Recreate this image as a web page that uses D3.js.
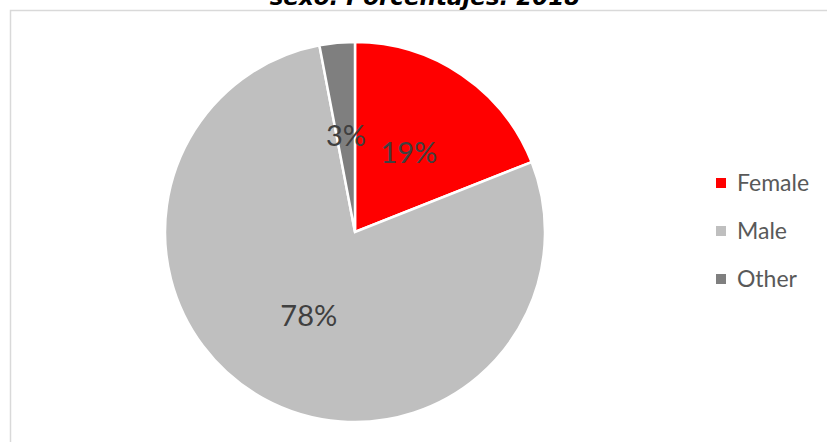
<!DOCTYPE html>
<html>
<head>
<meta charset="utf-8">
<script src="https://cdn.jsdelivr.net/npm/d3@7"></script>
<style>
  html, body { margin: 0; padding: 0; background: #fff; }
  svg { display: block; }
</style>
</head>
<body>
<svg id="chart" width="827" height="442"></svg>
<script>
// Share by sex, 2018
const categories = ["Female", "Male", "Other"];
const values = [19, 78, 3];
const colors = ["#FF0000", "#BFBFBF", "#7F7F7F"];
const titleText = "sexo. Porcentajes. 2018";

const W = 827, H = 442;
const svg = d3.select("#chart");

// chart frame (extends past the right and bottom edges)
svg.append("rect")
  .attr("x", 10.5).attr("y", 10.5)
  .attr("width", 900).attr("height", 900)
  .attr("fill", "#fff")
  .attr("stroke", "#D9D9D9")
  .attr("stroke-width", 1.5);

// title, its upper part runs above the top edge
svg.append("text")
  .attr("x", 425).attr("y", 5)
  .attr("text-anchor", "middle")
  .attr("font-family", "'DejaVu Sans', sans-serif")
  .attr("font-weight", "bold")
  .attr("font-style", "italic")
  .attr("font-size", 23)
  .attr("fill", "#000")
  .text(titleText);

const cx = 355, cy = 232, R = 190;
const data = categories.map((c, i) => ({ name: c, value: values[i], color: colors[i] }));

const pie = d3.pie().value(d => d.value).sort(null);
const arcs = pie(data);
const arc = d3.arc().innerRadius(0).outerRadius(R);
const labelArc = d3.arc().innerRadius(R * 0.505).outerRadius(R * 0.505);

const g = svg.append("g").attr("transform", `translate(${cx},${cy})`);

g.selectAll("path.slice")
  .data(arcs)
  .join("path")
  .attr("class", "slice")
  .attr("d", arc)
  .attr("fill", d => d.data.color)
  .attr("stroke", "#fff")
  .attr("stroke-width", 2.5)
  .attr("stroke-linejoin", "miter");

const total = d3.sum(values);
g.selectAll("text.pct")
  .data(arcs)
  .join("text")
  .attr("class", "pct")
  .attr("x", d => labelArc.centroid(d)[0])
  .attr("y", d => labelArc.centroid(d)[1] + 10)
  .attr("text-anchor", "middle")
  .attr("font-family", "Lato, 'Open Sans', sans-serif")
  .attr("font-size", 29)
  .attr("fill", "#404040")
  .text(d => Math.round(d.data.value / total * 100) + "%");

// legend
const legend = svg.append("g").attr("transform", "translate(716,0)");
const ly = d3.scalePoint().domain(categories).range([183, 279]);
const items = legend.selectAll("g.item")
  .data(data)
  .join("g")
  .attr("class", "item")
  .attr("transform", d => `translate(0,${ly(d.name)})`);
items.append("rect")
  .attr("x", 0).attr("y", -5)
  .attr("width", 10).attr("height", 10)
  .attr("fill", d => d.color);
items.append("text")
  .attr("x", 21).attr("y", 8)
  .attr("font-family", "Lato, 'Open Sans', sans-serif")
  .attr("font-size", 23)
  .attr("fill", "#595959")
  .text(d => d.name);
</script>
</body>
</html>
